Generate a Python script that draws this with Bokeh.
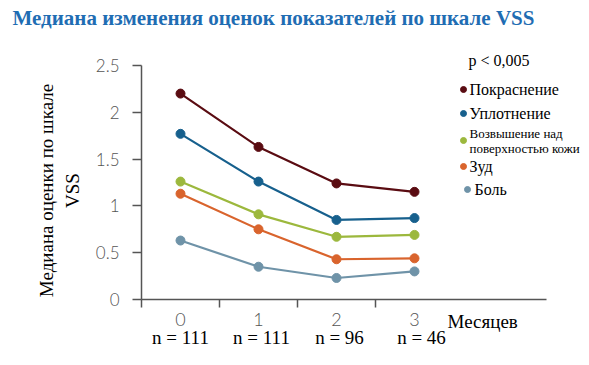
import math
from bokeh.plotting import figure
from bokeh.models import Label, FixedTicker, NumeralTickFormatter, LinearAxis
from bokeh.embed import file_html
from bokeh.resources import INLINE

# ---- data ----
months = [0, 1, 2, 3]
month_labels = ["0", "1", "2", "3"]
n_labels = ["n = 111", "n = 111", "n = 96", "n = 46"]

series_names = ["Покраснение", "Уплотнение", "Возвышение над\nповерхностью кожи", "Зуд", "Боль"]
redness = [2.20, 1.63, 1.24, 1.15]
induration = [1.77, 1.26, 0.85, 0.87]
elevation = [1.26, 0.91, 0.67, 0.69]
itching = [1.13, 0.75, 0.43, 0.44]
pain = [0.63, 0.35, 0.23, 0.30]
series_values = [redness, induration, elevation, itching, pain]
series_colors = ["#5a0c12", "#17608d", "#9cb83d", "#d9642d", "#6f93a8"]

y_ticks = [0, 0.5, 1, 1.5, 2, 2.5]
x_minor = [-0.5, 0.5, 1.5, 2.5]

# ---- layout: the frame fills the canvas, axes sit at fixed data positions ----
W, H = 589, 365
PX_X, PX_Y = 78.0, 93.6          # pixels per data unit
AXIS_LEFT_PX, AXIS_BOTTOM_PX = 141, 299
X_START = -0.5 - AXIS_LEFT_PX / PX_X
X_END = X_START + W / PX_X
Y_START = -(H - AXIS_BOTTOM_PX) / PX_Y
Y_END = Y_START + H / PX_Y
X_AXIS_END = -0.5 + (546 - AXIS_LEFT_PX) / PX_X


def dx(px):
    """canvas x pixel -> data x"""
    return X_START + px / PX_X


def dy(py):
    """canvas y pixel -> data y"""
    return Y_START + (H - py) / PX_Y


SERIF = "Liberation Serif, Times New Roman, serif"
LIGHT_SANS = "Lato Light, Lato, sans-serif"
AXIS_COLOR = "#555555"

p = figure(width=W, height=H, output_backend="svg", toolbar_location=None,
           x_range=(X_START, X_END), y_range=(Y_START, Y_END),
           x_axis_type=None, y_axis_type=None, min_border=0)
p.outline_line_color = None
p.grid.visible = False
p.background_fill_color = "white"
p.border_fill_color = "white"

# x axis: months as labels, separators as minor ticks
xa = LinearAxis(fixed_location=0, bounds=(-0.5, X_AXIS_END))
xa.ticker = FixedTicker(ticks=months, minor_ticks=x_minor)
xa.major_label_overrides = {m: lab for m, lab in zip(months, month_labels)}
xa.major_tick_line_color = None
xa.major_tick_out = 0
xa.major_tick_in = 0
xa.minor_tick_out = 8
xa.minor_tick_in = 0
xa.minor_tick_line_color = AXIS_COLOR
xa.minor_tick_line_width = 1.5
xa.axis_line_color = AXIS_COLOR
xa.axis_line_width = 1.5
xa.major_label_text_font = LIGHT_SANS
xa.major_label_text_font_size = "18px"
xa.major_label_text_color = "#555555"
xa.major_label_standoff = 5
p.add_layout(xa, "below")

ya = LinearAxis(fixed_location=-0.5, bounds=(0, 2.5))
ya.ticker = FixedTicker(ticks=y_ticks)
ya.formatter = NumeralTickFormatter(format="0.[0]")
ya.major_tick_out = 9
ya.major_tick_in = 0
ya.minor_tick_line_color = None
ya.major_tick_line_color = AXIS_COLOR
ya.major_tick_line_width = 1.5
ya.axis_line_color = AXIS_COLOR
ya.axis_line_width = 1.5
ya.major_label_text_font = LIGHT_SANS
ya.major_label_text_font_size = "17px"
ya.major_label_text_color = "#555555"
ya.major_label_standoff = 13
p.add_layout(ya, "left")

# series lines and points
for vals, col in zip(series_values, series_colors):
    p.line(months, vals, line_color=col, line_width=2.2)
    p.scatter(months, vals, size=9, fill_color=col, line_color=col)

# legend (dots + captions)
legend_rows = [89, 113, 140, 166, 189]
legend_dot_x = [463, 463, 463, 463, 467]
legend_text_x = [469, 469, 469, 469, 474]
legend_sizes = ["16px", "16px", "13px", "16px", "16px"]
for name, col, ry, dxp, txp, fs in zip(series_names, series_colors, legend_rows,
                                          legend_dot_x, legend_text_x, legend_sizes):
    p.scatter([dx(dxp)], [dy(ry)], size=6, fill_color=col, line_color=col)
    p.add_layout(Label(x=dx(txp), y=dy(ry), text=name, text_font=SERIF,
                       text_font_size=fs, text_color="black", text_align="left",
                       text_baseline="middle", text_line_height=1.0))

p.add_layout(Label(x=dx(468), y=dy(60), text="p < 0,005", text_font=SERIF,
                   text_font_size="16px", text_color="black",
                   text_align="left", text_baseline="middle"))

# sample sizes under the months (slightly drifting to the right)
n_shift_px = [0, 3, 3, 7]
for m, lab, sh in zip(months, n_labels, n_shift_px):
    p.add_layout(Label(x=m, y=dy(337), x_offset=sh, text=lab, text_font=SERIF,
                       text_font_size="19px", text_color="black",
                       text_align="center", text_baseline="middle"))

p.add_layout(Label(x=dx(447), y=dy(321), text="Месяцев", text_font=SERIF,
                   text_font_size="19px", text_color="black",
                   text_align="left", text_baseline="middle"))

# y axis caption
p.add_layout(Label(x=dx(59), y=dy(190), text="Медиана оценки по шкале\nVSS",
                   angle=math.pi / 2, text_font=SERIF, text_font_size="19px",
                   text_color="black", text_align="center", text_baseline="middle",
                   text_line_height=1.2))

# title
p.add_layout(Label(x=dx(12), y=dy(17), text="Медиана изменения оценок показателей по шкале VSS",
                   text_font=SERIF, text_font_size="21px", text_font_style="bold",
                   text_color="#1f6db3", text_align="left", text_baseline="middle"))

open("out.html", "w").write(file_html(p, INLINE))
